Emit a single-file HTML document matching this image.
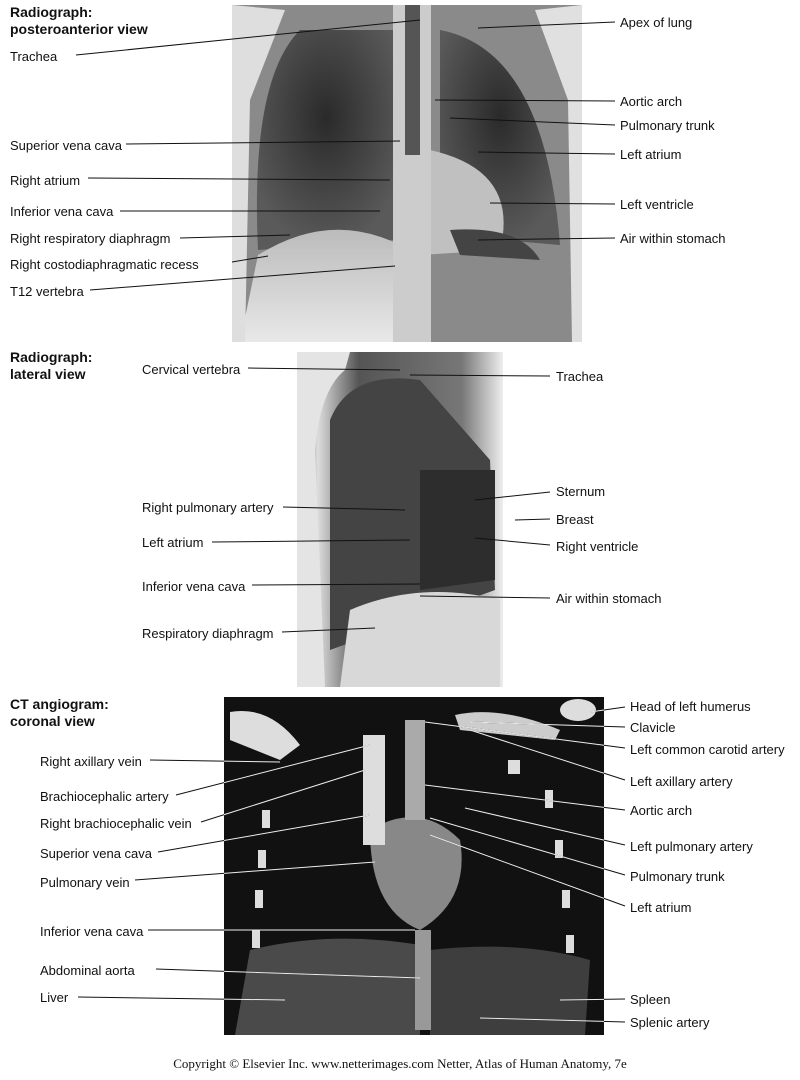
<!DOCTYPE html>
<html><head><meta charset="utf-8"><style>
html,body{margin:0;padding:0;background:#fff;}
svg{display:block}
text{font-family:"Liberation Sans",sans-serif;font-size:13px;fill:#111}
.b{font-weight:bold;font-size:14px}
</style></head><body>
<svg width="800" height="1080" viewBox="0 0 800 1080" xmlns="http://www.w3.org/2000/svg">
<defs>
<radialGradient id="lungL" cx="0.5" cy="0.4" r="0.6"><stop offset="0" stop-color="#2a2a2a"/><stop offset="1" stop-color="#5a5a5a"/></radialGradient>
<linearGradient id="abd" x1="0" y1="0" x2="0" y2="1"><stop offset="0" stop-color="#bbb"/><stop offset="1" stop-color="#e8e8e8"/></linearGradient>
<linearGradient id="latbg" x1="0" y1="0" x2="1" y2="0"><stop offset="0" stop-color="#222"/><stop offset="0.1" stop-color="#ddd"/><stop offset="0.3" stop-color="#555"/><stop offset="0.8" stop-color="#777"/><stop offset="1" stop-color="#eee"/></linearGradient>
<clipPath id="ctc"><rect x="224" y="697" width="380" height="338"/></clipPath>
</defs>
<!-- PA radiograph -->
<rect x="232" y="5" width="350" height="337" fill="#8a8a8a"/>
<path d="M300 30 Q250 80 258 250 L395 240 L395 30 Z" fill="url(#lungL)"/>
<path d="M440 30 Q545 50 560 245 L440 235 Z" fill="url(#lungL)"/>
<path d="M258 255 Q330 210 400 245 L400 342 L240 342 Z" fill="url(#abd)"/>
<path d="M430 150 Q520 170 500 250 L420 255 Z" fill="#c0c0c0"/>
<path d="M450 230 Q520 225 540 260 L460 255Z" fill="#444"/>
<rect x="393" y="5" width="38" height="337" fill="#ccc"/>
<rect x="405" y="5" width="15" height="150" fill="#555"/>
<path d="M232 5 L232 342 L245 342 L250 100 L285 10 Z" fill="#dedede"/>
<path d="M582 5 L582 342 L572 342 L568 100 L535 10 Z" fill="#e0e0e0"/>
<!-- lateral -->
<rect x="297" y="352" width="206" height="335" fill="url(#latbg)"/>
<path d="M330 420 Q350 370 420 380 L490 460 L495 590 L330 650 Z" fill="#444"/>
<path d="M420 470 L495 470 L495 580 L420 590 Z" fill="#2d2d2d"/>
<path d="M350 610 Q420 580 500 600 L500 687 L340 687 Z" fill="#d8d8d8"/>
<path d="M297 352 L297 687 L325 687 L315 450 Q320 390 345 370 L350 352 Z" fill="#e4e4e4"/>
<!-- CT -->
<rect x="224" y="697" width="380" height="338" fill="#111"/>
<path d="M250 950 Q330 930 420 945 L420 1035 L235 1035 Z" fill="#4a4a4a"/>
<path d="M430 950 Q520 940 590 960 L585 1035 L430 1035 Z" fill="#3e3e3e"/>
<path d="M370 830 Q420 800 460 840 Q470 900 420 930 Q370 910 370 830Z" fill="#888"/>
<rect x="363" y="735" width="22" height="110" fill="#ddd"/>
<rect x="405" y="720" width="20" height="100" fill="#aaa"/>
<rect x="415" y="930" width="16" height="100" fill="#999"/>
<path d="M230 712 Q270 705 300 745 L280 760 L230 740Z" fill="#ddd"/>
<path d="M455 715 Q500 705 560 730 L555 740 L460 730Z" fill="#ccc"/>
<ellipse cx="578" cy="710" rx="18" ry="11" fill="#ddd"/>
<g fill="#ddd"><rect x="262" y="810" width="8" height="18"/><rect x="258" y="850" width="8" height="18"/><rect x="255" y="890" width="8" height="18"/><rect x="252" y="930" width="8" height="18"/><rect x="545" y="790" width="8" height="18"/><rect x="555" y="840" width="8" height="18"/><rect x="562" y="890" width="8" height="18"/><rect x="566" y="935" width="8" height="18"/><rect x="508" y="760" width="12" height="14"/></g>
<!-- lines -->
<g stroke="#111" stroke-width="1" fill="none">
<line x1="76" y1="55" x2="420" y2="20"/>
<line x1="126" y1="144" x2="400" y2="141"/>
<line x1="88" y1="178" x2="390" y2="180"/>
<line x1="120" y1="211" x2="380" y2="211"/>
<line x1="180" y1="238" x2="290" y2="235"/>
<line x1="232" y1="262" x2="268" y2="256"/>
<line x1="90" y1="290" x2="395" y2="266"/>
<line x1="615" y1="22" x2="478" y2="28"/>
<line x1="615" y1="101" x2="435" y2="100"/>
<line x1="615" y1="125" x2="450" y2="118"/>
<line x1="615" y1="154" x2="478" y2="152"/>
<line x1="615" y1="204" x2="490" y2="203"/>
<line x1="615" y1="238" x2="478" y2="240"/>
<line x1="248" y1="368" x2="400" y2="370"/>
<line x1="550" y1="376" x2="410" y2="375"/>
<line x1="283" y1="507" x2="405" y2="510"/>
<line x1="212" y1="542" x2="410" y2="540"/>
<line x1="252" y1="585" x2="420" y2="584"/>
<line x1="282" y1="632" x2="375" y2="628"/>
<line x1="550" y1="492" x2="475" y2="500"/>
<line x1="550" y1="519" x2="515" y2="520"/>
<line x1="550" y1="545" x2="475" y2="538"/>
<line x1="550" y1="598" x2="420" y2="596"/>
</g>
<g id="ctl" stroke-width="1" fill="none">
<line x1="150" y1="760" x2="280" y2="762"/>
<line x1="176" y1="795" x2="370" y2="745"/>
<line x1="201" y1="822" x2="365" y2="770"/>
<line x1="158" y1="852" x2="370" y2="815"/>
<line x1="135" y1="880" x2="375" y2="862"/>
<line x1="148" y1="930" x2="415" y2="930"/>
<line x1="156" y1="969" x2="420" y2="978"/>
<line x1="78" y1="997" x2="285" y2="1000"/>
<line x1="625" y1="707" x2="590" y2="712"/>
<line x1="625" y1="727" x2="470" y2="722"/>
<line x1="625" y1="748" x2="425" y2="722"/>
<line x1="625" y1="780" x2="470" y2="730"/>
<line x1="625" y1="810" x2="425" y2="785"/>
<line x1="625" y1="845" x2="465" y2="808"/>
<line x1="625" y1="875" x2="430" y2="818"/>
<line x1="625" y1="906" x2="430" y2="835"/>
<line x1="625" y1="999" x2="560" y2="1000"/>
<line x1="625" y1="1022" x2="480" y2="1018"/>
</g>
<use href="#ctl" stroke="#111"/>
<g clip-path="url(#ctc)"><use href="#ctl" stroke="#eee"/></g>
<!-- labels -->
<text x="10" y="17" class="b">Radiograph:</text>
<text x="10" y="34" class="b">posteroanterior view</text>
<text x="10" y="61">Trachea</text>
<text x="10" y="150">Superior vena cava</text>
<text x="10" y="185">Right atrium</text>
<text x="10" y="216">Inferior vena cava</text>
<text x="10" y="243">Right respiratory diaphragm</text>
<text x="10" y="269">Right costodiaphragmatic recess</text>
<text x="10" y="296">T12 vertebra</text>
<text x="620" y="27">Apex of lung</text>
<text x="620" y="106">Aortic arch</text>
<text x="620" y="130">Pulmonary trunk</text>
<text x="620" y="159">Left atrium</text>
<text x="620" y="209">Left ventricle</text>
<text x="620" y="243">Air within stomach</text>
<text x="10" y="362" class="b">Radiograph:</text>
<text x="10" y="379" class="b">lateral view</text>
<text x="142" y="374">Cervical vertebra</text>
<text x="556" y="381">Trachea</text>
<text x="142" y="512">Right pulmonary artery</text>
<text x="142" y="547">Left atrium</text>
<text x="142" y="591">Inferior vena cava</text>
<text x="142" y="638">Respiratory diaphragm</text>
<text x="556" y="496">Sternum</text>
<text x="556" y="524">Breast</text>
<text x="556" y="551">Right ventricle</text>
<text x="556" y="603">Air within stomach</text>
<text x="10" y="709" class="b">CT angiogram:</text>
<text x="10" y="726" class="b">coronal view</text>
<text x="40" y="766">Right axillary vein</text>
<text x="40" y="801">Brachiocephalic artery</text>
<text x="40" y="828">Right brachiocephalic vein</text>
<text x="40" y="858">Superior vena cava</text>
<text x="40" y="887">Pulmonary vein</text>
<text x="40" y="936">Inferior vena cava</text>
<text x="40" y="975">Abdominal aorta</text>
<text x="40" y="1002">Liver</text>
<text x="630" y="711">Head of left humerus</text>
<text x="630" y="732">Clavicle</text>
<text x="630" y="754">Left common carotid artery</text>
<text x="630" y="786">Left axillary artery</text>
<text x="630" y="815">Aortic arch</text>
<text x="630" y="851">Left pulmonary artery</text>
<text x="630" y="881">Pulmonary trunk</text>
<text x="630" y="912">Left atrium</text>
<text x="630" y="1004">Spleen</text>
<text x="630" y="1027">Splenic artery</text>
<text x="400" y="1068" text-anchor="middle" style="font-family:'Liberation Serif',serif;font-size:13px">Copyright © Elsevier Inc.  www.netterimages.com Netter, Atlas of Human Anatomy, 7e</text>
</svg>
</body></html>
